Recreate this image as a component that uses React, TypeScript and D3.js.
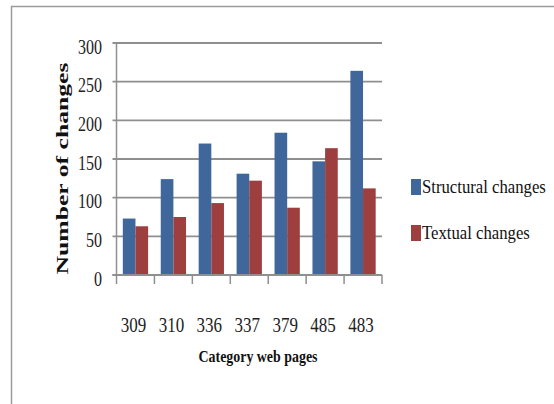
import React from "react";
import * as d3 from "d3";

const categories = ["309", "310", "336", "337", "379", "485", "483"];
const structural = [73, 124, 170, 131, 184, 147, 264];
const textual = [63, 75, 93, 122, 87, 164, 112];
const yTicks = [0, 50, 100, 150, 200, 250, 300];
const seriesNames = ["Structural changes", "Textual changes"];
const seriesColors = ["#3f679b", "#9d3f3f"];

const W = 554;
const H = 404;
const plot = { left: 116.5, right: 382, top: 43, bottom: 275 };
const serif = "Liberation Serif, Times New Roman, DejaVu Serif, serif";

export default function App() {
  const x = d3
    .scaleBand<string>()
    .domain(categories)
    .range([plot.left, plot.right])
    .paddingInner(0)
    .paddingOuter(0);
  const inner = d3
    .scaleBand<number>()
    .domain([0, 1])
    .range([0, x.bandwidth()])
    .paddingInner(0)
    .paddingOuter(0.5);
  const y = d3.scaleLinear().domain([0, 300]).range([plot.bottom, plot.top]);
  const series = [structural, textual];
  const boundaries = [...categories.map((c) => x(c) as number), plot.right];
  const yLabelRight = 102;
  const legendX = 422;

  return (
    <svg
      width={W}
      height={H}
      style={{ position: "absolute", left: 0, top: 0, background: "#fff", fontFamily: serif }}
    >
      {/* outer frame */}
      <line x1={11} y1={6.5} x2={W} y2={6.5} stroke="#9a9a9a" strokeWidth={1.5} />
      <line x1={11.5} y1={6} x2={11.5} y2={H} stroke="#9a9a9a" strokeWidth={1.5} />

      {/* gridlines */}
      {yTicks.map((t) => (
        <line
          key={t}
          x1={plot.left - 4}
          x2={plot.right}
          y1={y(t)}
          y2={y(t)}
          stroke="#8f8f8f"
          strokeWidth={1.8}
        />
      ))}

      {/* bars */}
      {categories.map((c, i) =>
        series.map((s, k) => (
          <rect
            key={c + k}
            x={(x(c) as number) + (inner(k) as number)}
            y={y(s[i])}
            width={inner.bandwidth()}
            height={y(0) - y(s[i])}
            fill={seriesColors[k]}
          />
        ))
      )}

      {/* axes */}
      <line x1={plot.left} x2={plot.left} y1={plot.top} y2={plot.bottom} stroke="#8f8f8f" strokeWidth={1.5} />
      <line x1={plot.left - 4} x2={plot.right} y1={plot.bottom} y2={plot.bottom} stroke="#8f8f8f" strokeWidth={1.8} />
      {boundaries.map((bx, i) => (
        <line key={i} x1={bx} x2={bx} y1={plot.bottom} y2={plot.bottom + 9} stroke="#8f8f8f" strokeWidth={1.5} />
      ))}

      {/* y tick labels */}
      {yTicks.map((t) => (
        <text
          key={t}
          x={yLabelRight}
          y={y(t) + 4}
          textAnchor="end"
          dominantBaseline="central"
          style={{ fontFamily: serif }}
          fontSize={20}
          fill="#222"
          transform={`translate(${yLabelRight} 0) scale(0.8 1) translate(${-yLabelRight} 0)`}
        >
          {t}
        </text>
      ))}

      {/* x tick labels */}
      {categories.map((c) => {
        const cx = (x(c) as number) + x.bandwidth() / 2 - 2;
        return (
          <text
            key={c}
            x={cx}
            y={332}
            textAnchor="middle"
            style={{ fontFamily: serif }}
            fontSize={20}
            fill="#222"
            transform={`translate(${cx} 0) scale(0.85 1) translate(${-cx} 0)`}
          >
            {c}
          </text>
        );
      })}

      {/* axis titles */}
      <text
        x={258}
        y={362}
        textAnchor="middle"
        style={{ fontFamily: serif }}
        fontWeight="bold"
        fontSize={17}
        fill="#111"
        textLength={119}
        lengthAdjust="spacingAndGlyphs"
      >
        Category web pages
      </text>
      <text
        transform={`translate(68 ${(62 + 275) / 2}) rotate(-90)`}
        textAnchor="middle"
        style={{ fontFamily: serif }}
        fontWeight="bold"
        fontSize={17}
        fill="#111"
        textLength={212}
        lengthAdjust="spacingAndGlyphs"
      >
        Number of changes
      </text>

      {/* legend */}
      {seriesNames.map((name, k) => {
        const ly = 187 + k * 46;
        return (
          <g key={name}>
            <rect x={411} y={ly - 8} width={10} height={16} fill={seriesColors[k]} />
            <text
              x={legendX}
              y={ly}
              dominantBaseline="central"
              style={{ fontFamily: serif }}
              fontSize={19}
              fill="#111"
              transform={`translate(${legendX} 0) scale(0.88 1) translate(${-legendX} 0)`}
            >
              {name}
            </text>
          </g>
        );
      })}
    </svg>
  );
}
